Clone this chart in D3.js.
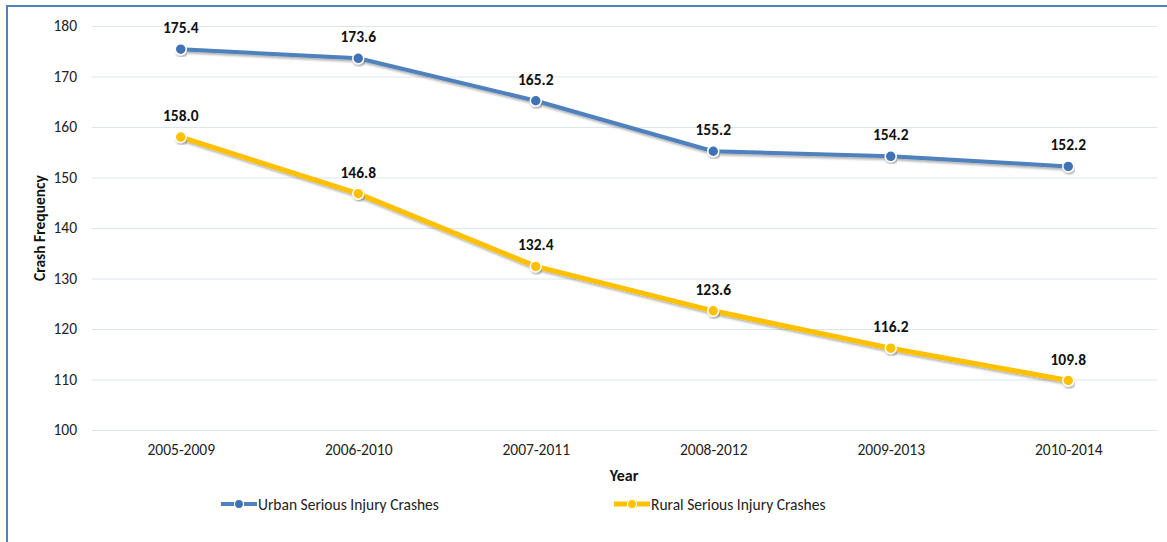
<!DOCTYPE html>
<html>
<head>
<meta charset="utf-8">
<script src="https://cdn.jsdelivr.net/npm/d3@7/dist/d3.min.js"></script>
<style>
  html, body { margin: 0; padding: 0; background: #fff; }
  svg { display: block; font-family: Carlito, "Liberation Sans", Arial, sans-serif; }
</style>
</head>
<body>
<svg id="chart" width="1167" height="542"></svg>
<script>
// Five-year rolling serious injury crash counts
const years = ["2005-2009", "2006-2010", "2007-2011", "2008-2012", "2009-2013", "2010-2014"];
const urban = [175.4, 173.6, 165.2, 155.2, 154.2, 152.2];
const rural = [158.0, 146.8, 132.4, 123.6, 116.2, 109.8];
const yTicks = [100, 110, 120, 130, 140, 150, 160, 170, 180];
const seriesNames = ["Urban Serious Injury Crashes", "Rural Serious Injury Crashes"];

const series = [
  { name: seriesNames[0], values: urban, line: "#4f81bd", dot: "#3f72b5", width: 4 },
  { name: seriesNames[1], values: rural, line: "#ffc000", dot: "#ffc000", width: 5 }
];

const FONT = "Carlito, 'Liberation Sans', Arial, sans-serif";
const svg = d3.select("#chart");
const W = 1167, H = 542;
const plot = { left: 92, right: 1157, top: 26, bottom: 430 };

// Outer frame: top and left edges
svg.append("line").attr("x1", 6).attr("x2", W).attr("y1", 6).attr("y2", 6)
  .attr("stroke", "#4f81bd").attr("stroke-width", 2);
svg.append("line").attr("x1", 7).attr("x2", 7).attr("y1", 5).attr("y2", H)
  .attr("stroke", "#4f81bd").attr("stroke-width", 2);

const defs = svg.append("defs");
const f = defs.append("filter").attr("id", "shadow")
  .attr("x", "-5%").attr("y", "-20%").attr("width", "110%").attr("height", "140%");
f.append("feDropShadow").attr("dx", 1).attr("dy", 2).attr("stdDeviation", 1.2)
  .attr("flood-color", "#000").attr("flood-opacity", 0.3);

const x = d3.scalePoint().domain(years).range([plot.left, plot.right]).padding(0.5);
const y = d3.scaleLinear().domain([100, 180]).range([plot.bottom, plot.top]);

// Horizontal gridlines and y tick labels
const yAxis = d3.axisLeft(y).tickValues(yTicks).tickSize(-(plot.right - plot.left)).tickPadding(15);
const gy = svg.append("g").attr("transform", `translate(${plot.left},0)`).call(yAxis);
gy.select(".domain").remove();
gy.selectAll(".tick line").attr("stroke", "#dce6f2").attr("stroke-width", 1);
gy.selectAll(".tick text").attr("fill", "#222").style("font-size", "15.5px").style("font-family", FONT);

// Category labels
const xAxis = d3.axisBottom(x).tickSize(0).tickPadding(14);
const gx = svg.append("g").attr("transform", `translate(0,${plot.bottom})`).call(xAxis);
gx.select(".domain").remove();
gx.selectAll(".tick text").attr("fill", "#222").style("font-size", "15.5px").style("font-family", FONT);

// Axis titles
svg.append("text").attr("x", 624).attr("y", 481).attr("text-anchor", "middle")
  .style("font-size", "16px").style("font-weight", "bold").attr("fill", "#111").text("Year");
svg.append("text").attr("transform", "translate(45,228) rotate(-90)").attr("text-anchor", "middle")
  .style("font-size", "15.5px").style("font-weight", "bold").attr("fill", "#111").text("Crash Frequency");

const lineGen = d3.line().x((d, i) => x(years[i])).y(d => y(d));

series.forEach(s => {
  const g = svg.append("g");
  g.append("path").datum(s.values).attr("d", lineGen)
    .attr("fill", "none").attr("stroke", s.line).attr("stroke-width", s.width)
    .attr("stroke-linejoin", "round").attr("filter", "url(#shadow)");
  g.selectAll("circle").data(s.values).join("circle")
    .attr("cx", (d, i) => x(years[i])).attr("cy", d => y(d)).attr("r", 5.5)
    .attr("fill", s.dot).attr("stroke", "#fff").attr("stroke-width", 1.5)
    .attr("filter", "url(#shadow)");
  g.selectAll("text.lbl").data(s.values).join("text").attr("class", "lbl")
    .attr("x", (d, i) => x(years[i])).attr("y", d => y(d) - 16)
    .attr("text-anchor", "middle").style("font-size", "15.5px").style("font-weight", "bold")
    .attr("fill", "#111").text(d => d.toFixed(1));
});

// Legend
const legendX = [221, 614];
series.forEach((s, i) => {
  const g = svg.append("g").attr("transform", `translate(${legendX[i]},504)`);
  g.append("line").attr("x1", 0).attr("x2", 36).attr("y1", 0).attr("y2", 0)
    .attr("stroke", s.line).attr("stroke-width", s.width);
  g.append("circle").attr("cx", 18).attr("cy", 0).attr("r", 4.5)
    .attr("fill", s.dot).attr("stroke", "#fff").attr("stroke-width", 1.2);
  g.append("text").attr("x", 37).attr("y", 5.5).style("font-size", "15.5px")
    .attr("fill", "#222").text(s.name);
});
</script>
</body>
</html>
